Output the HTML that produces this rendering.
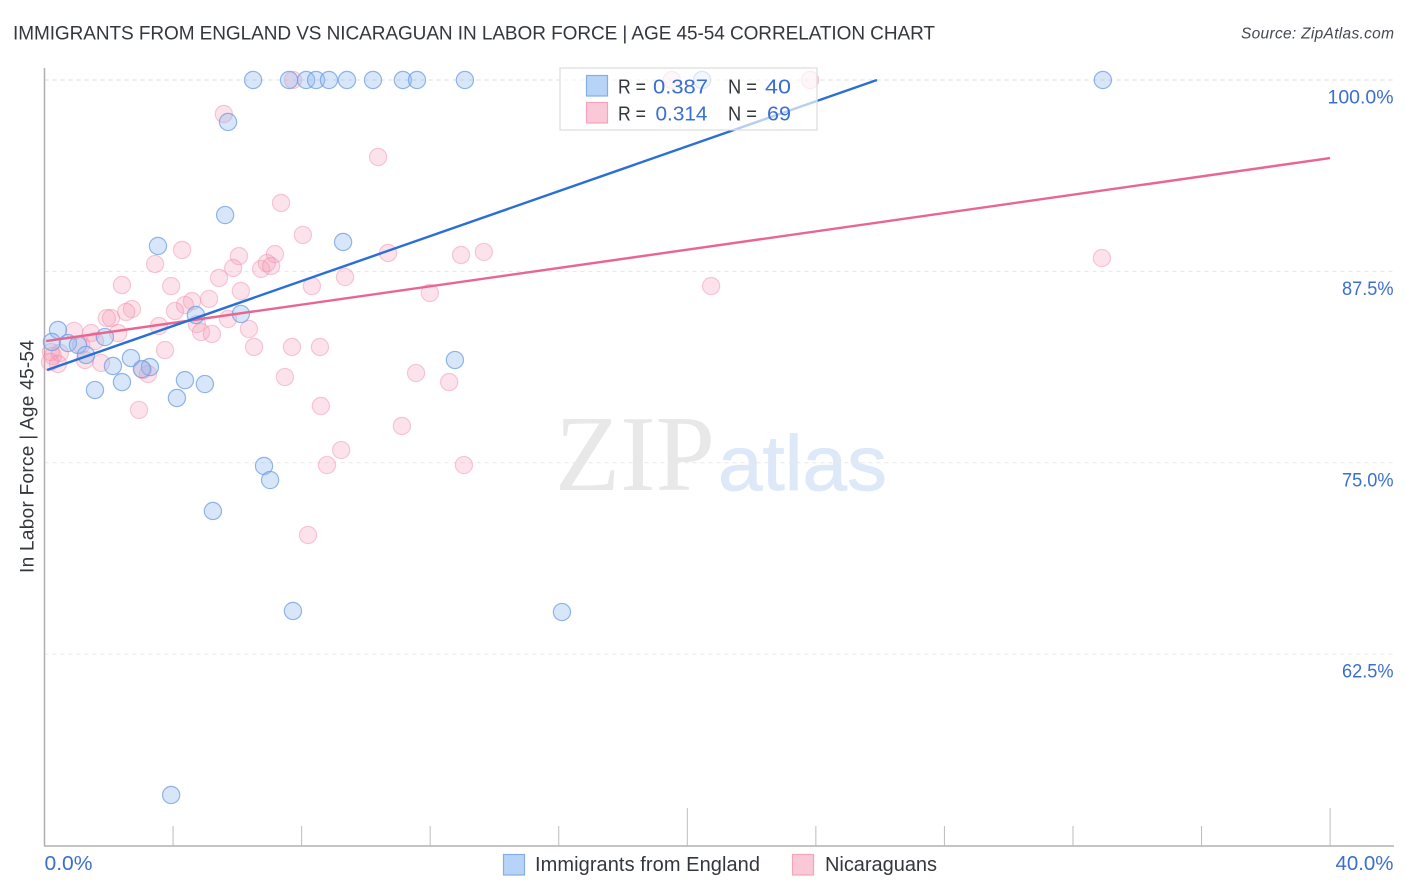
<!DOCTYPE html>
<html lang="en">
<head>
<meta charset="utf-8">
<title>Immigrants from England vs Nicaraguan in Labor Force | Age 45-54 Correlation Chart</title>
<style>
html,body{margin:0;padding:0;background:#fff;width:1406px;height:892px;overflow:hidden}
svg{display:block}
text{font-family:"Liberation Sans",sans-serif}
</style>
</head>
<body>
<svg id="chart" xmlns="http://www.w3.org/2000/svg" width="1406" height="892" viewBox="0 0 1406 892">
  <text x="13" y="39.5" font-size="19" fill="#33373e" textLength="922">IMMIGRANTS FROM ENGLAND VS NICARAGUAN IN LABOR FORCE | AGE 45-54 CORRELATION CHART</text>
  <text x="1394" y="38.5" font-size="15.5" font-style="italic" fill="#454952" text-anchor="end" textLength="153">Source: ZipAtlas.com</text>

  <g>
    <text x="555" y="490" style="font-family:'Liberation Serif',serif" font-size="108" fill="#e8e8e8" textLength="160" lengthAdjust="spacingAndGlyphs">ZIP</text>
    <text x="718" y="490" font-size="78" fill="#dde8f8" stroke="#dde8f8" stroke-width="0.8" textLength="169" lengthAdjust="spacingAndGlyphs">atlas</text>
  </g>

  <g id="grid"></g>
  <g id="yticks"></g>
  <g id="axes"></g>
  <g id="pink-points"></g>
  <g id="blue-points"></g>
  <g id="trends"></g>

  <text transform="translate(33.5 456.5) rotate(-90)" font-size="19" fill="#33373e" text-anchor="middle" textLength="233">In Labor Force | Age 45-54</text>

  <g>
    <rect x="560" y="68" width="257" height="62" fill="#ffffff" fill-opacity="0.66" stroke="#dcdcdc" stroke-width="1.2"/>
    <rect x="586.5" y="75.5" width="21" height="20.5" fill="#b7d3f7" stroke="#86aee6" stroke-width="1.2"/>
    <rect x="586.5" y="102.5" width="21" height="20.5" fill="#fbc8d8" stroke="#f2a4bc" stroke-width="1.2"/>
    <text x="618" y="93.5" font-size="20" fill="#33373e" textLength="28" lengthAdjust="spacingAndGlyphs">R =</text>
    <text x="653" y="93.5" font-size="20.5" fill="#3a6fd0" textLength="55" lengthAdjust="spacingAndGlyphs">0.387</text>
    <text x="728" y="93.5" font-size="20" fill="#33373e" textLength="29" lengthAdjust="spacingAndGlyphs">N =</text>
    <text x="765" y="93.5" font-size="20.5" fill="#3a6fd0" textLength="26" lengthAdjust="spacingAndGlyphs">40</text>
    <text x="618" y="120.5" font-size="20" fill="#33373e" textLength="28" lengthAdjust="spacingAndGlyphs">R =</text>
    <text x="655.5" y="120.5" font-size="20.5" fill="#3a6fd0" textLength="52" lengthAdjust="spacingAndGlyphs">0.314</text>
    <text x="728" y="120.5" font-size="20" fill="#33373e" textLength="29" lengthAdjust="spacingAndGlyphs">N =</text>
    <text x="767" y="120.5" font-size="20.5" fill="#3a6fd0" textLength="24" lengthAdjust="spacingAndGlyphs">69</text>
  </g>

  <g id="xlabels"></g>

  <g>
    <g>
      <rect x="503.5" y="854.5" width="21" height="20.5" fill="#b7d3f7" stroke="#86aee6" stroke-width="1.2"/>
      <text x="535" y="871" font-size="20" fill="#33373e" textLength="225">Immigrants from England</text>
    </g>
    <g>
      <rect x="792.5" y="854.5" width="21" height="20.5" fill="#fbc8d8" stroke="#f2a4bc" stroke-width="1.2"/>
      <text x="825" y="871" font-size="20" fill="#33373e" textLength="112">Nicaraguans</text>
    </g>
  </g>
</svg>
<script>
// Chart data
const xTickValues = [0, 4, 8, 12, 16, 20, 24, 28, 32, 36, 40];
const xMajorTicks = [20, 40];
const xTickLabels = ["0.0%", "40.0%"];
const xLabelValues = [0, 40];
const yTickValues = [100, 87.5, 75, 62.5];
const yTickLabels = ["100.0%", "87.5%", "75.0%", "62.5%"];

const englandX = [6.49,7.61,8.14,8.45,8.85,9.41,10.22,11.15,11.59,13.08,20.46,32.93,5.71,5.62,3.53,9.29,4.71,6.11,0.42,0.23,0.73,1.04,1.88,1.29,2.69,2.13,3.28,3.03,2.41,1.57,4.37,4.99,4.12,12.77,6.83,7.02,5.24,7.73,16.10,3.94];
const englandY = [100,100,100,100,100,100,100,100,100,100,100,100,97.26,91.18,89.16,89.42,84.65,84.72,83.67,82.89,82.82,82.69,83.21,82.04,81.84,81.32,81.25,81.12,80.27,79.75,80.40,80.14,79.23,81.71,74.79,73.87,71.85,65.32,65.25,53.30];

const nicaraguansX = [7.73,19.52,23.82,5.58,10.38,7.36,8.04,4.28,3.44,6.05,7.17,5.87,6.74,6.92,7.05,5.43,10.69,12.96,13.67,32.90,9.35,2.41,3.94,6.11,8.32,11.99,20.74,5.12,4.59,4.37,4.06,2.72,2.54,2.07,1.94,5.71,4.74,3.56,6.36,4.87,5.21,2.29,1.45,0.92,1.57,1.14,6.52,7.70,8.57,3.75,0.20,0.26,0.48,0.42,0.17,1.26,1.76,3.22,3.06,7.48,11.56,12.59,2.94,8.60,11.12,9.23,8.79,13.05,8.20];
const nicaraguansY = [100,100,100,97.78,94.97,91.97,89.88,88.90,87.98,88.50,88.63,87.72,87.66,88.05,87.85,87.07,88.70,88.57,88.77,88.37,87.13,86.61,86.54,86.22,86.54,86.09,86.54,85.70,85.56,85.30,84.91,85.04,84.85,84.45,84.45,84.39,84.06,83.93,83.74,83.54,83.41,83.47,83.47,83.61,82.95,82.69,82.56,82.56,82.56,82.36,82.23,81.97,82.17,81.45,81.58,81.71,81.52,80.80,81.06,80.60,80.86,80.27,78.45,78.71,77.40,75.83,74.85,74.85,70.28];

const englandTrendX = [0.08, 25.9];
const englandTrendY = [81.06, 100];
const nicaraguansTrendX = [0.05, 40];
const nicaraguansTrendY = [82.95, 94.9];

// Axis functions
const xScale = function (v) { return 44.5 + v * 32.14; };
const yScale = function (v) { return 80 + (100 - v) * 15.31; };

const NS = 'http://www.w3.org/2000/svg';
function make(tag, parentId, attrs, text) {
  const el = document.createElementNS(NS, tag);
  for (const k in attrs) el.setAttribute(k, attrs[k]);
  if (text !== undefined) el.textContent = text;
  document.getElementById(parentId).appendChild(el);
  return el;
}

// Gridlines and y labels
yTickValues.forEach(function (v, i) {
  const line = make('line', 'grid', {x1: 44.5, x2: 1394, y1: yScale(v), y2: yScale(v), stroke: i === 0 ? '#dcdcdc' : '#e8e8e8', 'stroke-width': 1, 'stroke-dasharray': '4 4'});
  
  
  const label = make('text', 'yticks', {x: 1393.5, y: yScale(v) + 23.5, 'font-size': i === 0 ? 19.5 : 19, fill: '#3a6fd0', 'text-anchor': 'end', textLength: i === 0 ? 66 : 51.5, lengthAdjust: 'spacingAndGlyphs'}, yTickLabels[i]);
  
  
});

// Axes and ticks
const yAxis = make('line', 'axes', {x1: 44.5, x2: 44.5, y1: 68, y2: 846, stroke: '#b0b0b0', 'stroke-width': 1.5});


const xAxis = make('line', 'axes', {x1: 44, x2: 1394, y1: 846, y2: 846, stroke: '#b0b0b0', 'stroke-width': 1.5});


xTickValues.slice(1).forEach(function (v) {
  const tall = xMajorTicks.indexOf(v) >= 0;
  const t = make('line', 'axes', {x1: xScale(v), x2: xScale(v), y1: tall ? 808 : 826, y2: 846, stroke: '#bcbcbc', 'stroke-width': 1});
  
  
});
xLabelValues.forEach(function (v, i) {
  const label = make('text', 'xlabels', {x: i === 0 ? xScale(v) : 1393.5, y: 870, 'font-size': 20, fill: '#3a6fd0', 'text-anchor': i === 0 ? 'start' : 'end', textLength: i === 0 ? 48 : 58, lengthAdjust: 'spacingAndGlyphs'}, xTickLabels[i]);
  
  
});

// Points
nicaraguansX.forEach(function (v, i) {
  const c = make('circle', 'pink-points', {cx: xScale(v), cy: yScale(nicaraguansY[i]), r: 8.6, fill: '#f59ab6', 'fill-opacity': 0.28, stroke: '#ee85a6', 'stroke-opacity': 0.42, 'stroke-width': 1.2});
  
  
});
englandX.forEach(function (v, i) {
  const c = make('circle', 'blue-points', {cx: xScale(v), cy: yScale(englandY[i]), r: 8.6, fill: '#93baf0', 'fill-opacity': 0.36, stroke: '#6a9be0', 'stroke-opacity': 0.72, 'stroke-width': 1.2});
  
  
});

// Trend lines
const pinkLine = make('line', 'trends', {x1: xScale(nicaraguansTrendX[0]), y1: yScale(nicaraguansTrendY[0]), x2: xScale(nicaraguansTrendX[1]), y2: yScale(nicaraguansTrendY[1]), stroke: '#e8668f', 'stroke-width': 2.4});


const blueLine = make('line', 'trends', {x1: xScale(englandTrendX[0]), y1: yScale(englandTrendY[0]), x2: xScale(englandTrendX[1]), y2: yScale(englandTrendY[1]), stroke: '#2a6fd6', 'stroke-width': 2.4});


</script>
</body>
</html>
